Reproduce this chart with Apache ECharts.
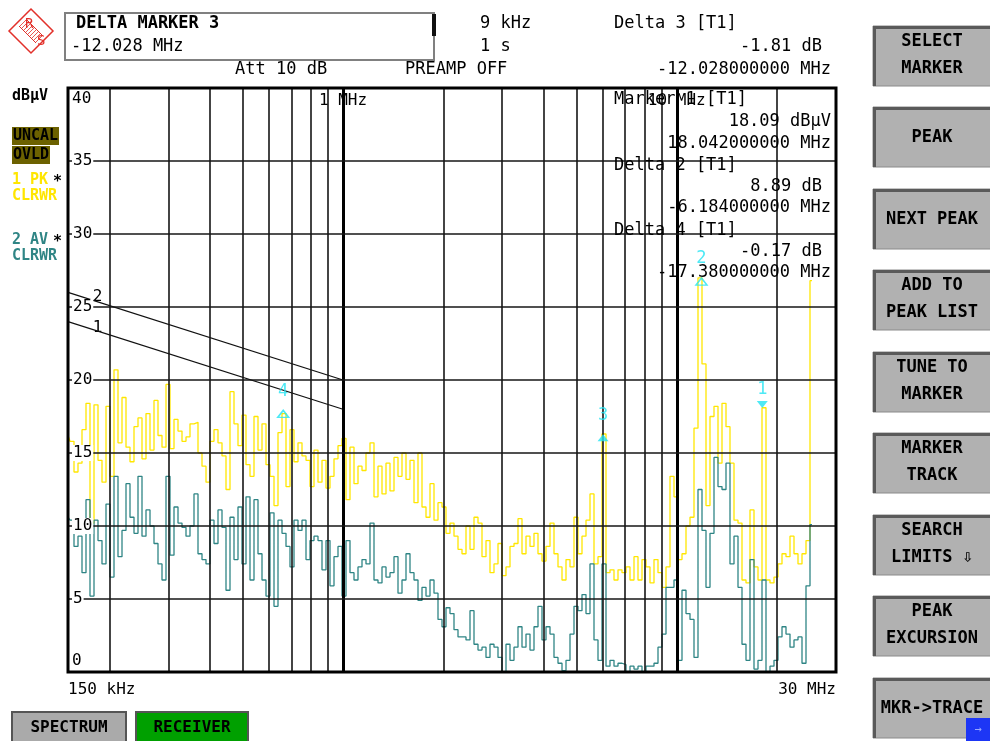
<!DOCTYPE html>
<html>
<head>
<meta charset="utf-8">
<script src="https://cdn.jsdelivr.net/npm/echarts@6.0.0/dist/echarts.min.js"></script>
<style>
  html, body { margin: 0; padding: 0; background: #fff; }
  #chart { width: 990px; height: 741px; }
</style>
</head>
<body>
<div id="chart"></div>
<script>
// peak (PK, trace 1) and average (AV, trace 2) levels in dBuV, one value per sweep step
const pkTrace = [
  16.2, 15.8, 13.7, 14.3, 16.6, 18.4, 10.2, 18.3, 14.5, 13.0,
  18.2, 13.4, 20.7, 15.7, 18.8, 15.4, 14.4, 16.8, 17.4, 14.6,
  17.7, 15.2, 18.6, 16.2, 15.4, 19.7, 15.3, 17.3, 16.5, 15.8,
  16.1, 17.0, 17.1, 15.0, 14.1, 13.0,
  15.8, 16.6, 15.7, 14.8, 12.5, 19.2, 17.0, 15.5, 17.6, 14.2,
  13.4, 17.5, 15.2, 17.0, 14.2, 13.4, 11.4, 16.4, 17.7, 12.7,
  16.6, 14.4, 15.7, 14.8, 14.5, 12.7, 15.2, 13.0, 14.5, 12.6,
  13.4, 14.6, 15.5, 16.0,
  11.8, 15.4, 12.9, 14.1, 13.8, 15.0, 15.7, 12.0, 14.1, 12.2,
  14.3, 12.4, 14.7, 13.4, 15.0, 13.2, 14.5, 11.6, 15.0, 11.3,
  10.6, 12.9, 10.4, 11.6, 11.3, 9.5, 10.2, 9.3, 8.4,
  8.1, 10.0, 8.4, 10.6, 10.2, 7.9, 9.0, 6.8, 7.4, 8.8,
  6.6, 7.2, 8.6, 8.8, 10.5, 8.1, 9.3, 8.6, 9.5, 8.1,
  7.6, 8.6, 10.2, 8.1, 7.2, 6.3, 7.7, 7.2, 10.6, 8.1,
  9.3, 10.4, 12.2, 7.4, 7.9, 16.3, 6.8, 7.0, 6.3, 7.0,
  6.8, 7.2, 6.3, 7.9, 6.3, 7.7, 7.2, 6.1, 7.7, 6.8,
  5.8, 7.2, 13.4, 12.0, 7.7, 8.1, 10.0, 10.6, 16.7, 27.0,
  21.1, 11.4, 17.5, 18.2, 14.3, 18.4, 16.8, 14.3, 10.4, 10.2,
  6.3, 6.1, 11.1, 7.2, 6.3, 18.1, 6.3, 6.1, 6.5, 7.4,
  8.1, 7.9, 9.3, 8.1, 7.4, 8.1, 9.0, 26.8
];
const avTrace = [
  10.6, 10.4, 8.6, 9.3, 6.8, 11.8, 5.2, 10.4, 9.0, 7.4,
  11.5, 6.5, 13.4, 7.9, 9.7, 12.9, 10.6, 9.5, 13.4, 9.3,
  11.1, 10.0, 8.8, 7.4, 6.3, 13.4, 8.0, 11.3, 10.2, 9.9,
  9.3, 10.0, 12.2, 8.1, 7.7, 7.4,
  10.4, 8.8, 11.1, 9.9, 5.6, 10.6, 7.7, 11.3, 7.4, 12.0,
  6.3, 11.8, 8.1, 6.3, 5.2, 10.9, 4.5, 10.4, 9.5, 8.6,
  7.2, 10.4, 9.7, 10.4, 7.7, 9.0, 9.3, 9.0, 7.0, 9.0,
  5.9, 7.9, 8.6, 5.2,
  9.0, 6.8, 6.3, 7.2, 7.7, 7.4, 10.2, 6.3, 6.1, 7.2,
  6.5, 6.8, 7.9, 5.4, 6.3, 8.1, 6.8, 6.3, 4.9, 5.8,
  5.2, 6.3, 5.4, 3.6, 3.1, 4.4, 4.0, 2.9, 2.4,
  2.4, 2.2, 4.2, 1.9, 1.5, 1.7, 1.0, 1.9, 1.7, 1.0,
  0.0, 1.9, 0.8, 1.7, 3.1, 1.7, 2.6, 1.5, 3.1, 4.5,
  2.2, 3.1, 2.6, 1.0, 0.6, 0.1, 0.8, 2.6, 4.5, 4.2,
  5.3, 4.0, 7.4, 2.2, 0.8, 7.4, 0.4, 0.8, 0.4, 0.6,
  0.5, 0.0, 0.4, 0.2, 0.4, 0.0, 0.4, 0.4, 0.6, 1.7,
  2.6, 5.8, 5.8, 6.3, 0.8, 5.6, 4.0, 3.6, 1.0, 12.5,
  9.7, 5.8, 9.5, 14.7, 12.7, 12.5, 14.3, 7.4, 9.3, 5.8,
  1.9, 0.8, 7.7, 0.2, 0.8, 6.3, 0.0, 0.4, 0.8, 2.4,
  3.1, 2.6, 1.7, 2.2, 2.4, 0.6, 5.9, 10.1
];
// sweep steps across the full span (the scan has not reached 30 MHz yet)
const sweepSteps = Array.from({ length: 193 }, (_, i) => i);

// limit lines [MHz, dBuV]
const limit1 = [[0.15, 24.0], [1, 18.0]];
const limit2 = [[0.15, 26.0], [1, 20.0]];

// markers
const markerNames = ['1', '2', '3', '4'];
const markerFreq = [18.042, 11.858, 6.014, 0.662];
const markerLevel = [18.09, 26.98, 16.28, 17.92];

// frequency grid (MHz)
const gridFreqs = [0.2, 0.3, 0.4, 0.5, 0.6, 0.7, 0.8, 0.9, 2, 3, 4, 5, 6, 7, 8, 9, 20];
const decadeFreqs = [1, 10];
const levelTicks = [5, 10, 15, 20, 25, 30, 35];

const MONO = '"DejaVu Sans Mono", "Liberation Mono", monospace';
const CYAN = '#22e4f2';
const YEL = '#ffe600';
const TEAL = '#2f8585';
const RED = '#e2302a';

const near = (a, b) => Math.abs(a - b) < 1e-6 * Math.max(1, b);

function txt(x, y, text, o) {
  o = o || {};
  return {
    type: 'text', x: x, y: y, z: 30,
    style: {
      text: text, fill: o.c || '#000',
      font: (o.b ? 'bold ' : '') + (o.s || 17) + 'px ' + MONO,
      align: o.a || 'left', verticalAlign: 'middle'
    }
  };
}

// soft keys on the right
const keys = [
  ['SELECT', 'MARKER'], ['PEAK'], ['NEXT PEAK'], ['ADD TO', 'PEAK LIST'],
  ['TUNE TO', 'MARKER'], ['MARKER', 'TRACK'], ['SEARCH', 'LIMITS \u21e9'],
  ['PEAK', 'EXCURSION'], ['MKR->TRACE']
];
const keyTop = [26, 107, 189, 270, 352, 433, 515, 596, 678];

const graphics = [];

// R&S logo
graphics.push({
  type: 'polygon', z: 30,
  shape: { points: [[31, 9], [53, 31], [31, 53], [9, 31]] },
  style: { fill: 'none', stroke: RED, lineWidth: 1.5 }
});
graphics.push({ type: 'line', z: 30, shape: { x1: 19, y1: 26, x2: 36, y2: 43 }, style: { stroke: RED, lineWidth: 1 } });
graphics.push({ type: 'line', z: 30, shape: { x1: 26, y1: 19, x2: 43, y2: 36 }, style: { stroke: RED, lineWidth: 1 } });
for (let k = 0; k < 9; k++) {
  const cx = 23 + k * 2, cy = 23 + k * 2;
  graphics.push({ type: 'line', z: 30, shape: { x1: cx - 3.5, y1: cy + 3.5, x2: cx + 3.5, y2: cy - 3.5 }, style: { stroke: RED, lineWidth: 0.8 } });
}
graphics.push(txt(25, 24, 'R', { c: RED, s: 14 }));
graphics.push(txt(37, 41, 'S', { c: RED, s: 14 }));

// header box
graphics.push({ type: 'rect', z: 20, shape: { x: 65, y: 13, width: 369, height: 47 }, style: { fill: '#fff', stroke: '#808080', lineWidth: 2 } });
graphics.push({ type: 'rect', z: 21, shape: { x: 432, y: 14, width: 4, height: 22 }, style: { fill: '#111' } });
graphics.push(txt(76, 24, 'DELTA MARKER 3', { b: true }));
graphics.push(txt(71, 47, '-12.028 MHz'));
graphics.push(txt(480, 24, '9 kHz'));
graphics.push(txt(480, 47, '1 s'));
graphics.push(txt(235, 70, 'Att 10 dB'));
graphics.push(txt(405, 70, 'PREAMP OFF'));
graphics.push(txt(614, 24, 'Delta 3 [T1]'));
graphics.push(txt(822, 47, '-1.81 dB', { a: 'right' }));
graphics.push(txt(831, 70, '-12.028000000 MHz', { a: 'right' }));

// marker readouts inside the diagram
graphics.push(txt(614, 100, 'Marker 1 [T1]'));
graphics.push(txt(831, 122, '18.09 dB\u00b5V', { a: 'right' }));
graphics.push(txt(831, 144, '18.042000000 MHz', { a: 'right' }));
graphics.push(txt(614, 166, 'Delta 2 [T1]'));
graphics.push(txt(822, 187, '8.89 dB', { a: 'right' }));
graphics.push(txt(831, 208, '-6.184000000 MHz', { a: 'right' }));
graphics.push(txt(614, 231, 'Delta 4 [T1]'));
graphics.push(txt(822, 252, '-0.17 dB', { a: 'right' }));
graphics.push(txt(831, 273, '-17.380000000 MHz', { a: 'right' }));

// left status column
graphics.push(txt(12, 96, 'dB\u00b5V', { b: true, s: 15 }));
graphics.push({ type: 'rect', z: 20, shape: { x: 12, y: 127, width: 47, height: 18 }, style: { fill: '#6c6100' } });
graphics.push({ type: 'rect', z: 20, shape: { x: 12, y: 146, width: 38, height: 18 }, style: { fill: '#6c6100' } });
graphics.push(txt(13, 136.5, 'UNCAL', { b: true, s: 15 }));
graphics.push(txt(13, 155.5, 'OVLD', { b: true, s: 15 }));
graphics.push(txt(12, 180, '1 PK', { b: true, s: 15, c: YEL }));
graphics.push(txt(53, 182, '*', { b: true, s: 15 }));
graphics.push(txt(12, 196, 'CLRWR', { b: true, s: 15, c: YEL }));
graphics.push(txt(12, 240, '2 AV', { b: true, s: 15, c: TEAL }));
graphics.push(txt(53, 242, '*', { b: true, s: 15 }));
graphics.push(txt(12, 256, 'CLRWR', { b: true, s: 15, c: TEAL }));

// soft keys
keys.forEach(function (lines, k) {
  const y0 = keyTop[k];
  graphics.push({ type: 'rect', z: 20, shape: { x: 873, y: y0, width: 120, height: 60 }, style: { fill: '#b1b1b1', stroke: '#8a8a8a', lineWidth: 1 } });
  graphics.push({ type: 'polyline', z: 21, shape: { points: [[874.5, y0 + 60], [874.5, y0 + 1.5], [992, y0 + 1.5]] }, style: { stroke: '#5a5a5a', lineWidth: 3, fill: 'none' } });
  const ys = lines.length === 2 ? [y0 + 16, y0 + 43] : [y0 + 31];
  lines.forEach(function (s, j) {
    graphics.push(txt(932, ys[j], s, { b: true, s: 17, a: 'center' }));
  });
});
graphics.push({ type: 'rect', z: 22, shape: { x: 966, y: 718, width: 24, height: 23 }, style: { fill: '#1d36f5' } });
graphics.push(txt(978, 730, '\u2192', { s: 12, c: '#9aa8ff', a: 'center' }));

// bottom mode tabs
graphics.push({ type: 'rect', z: 20, shape: { x: 12, y: 712, width: 114, height: 30 }, style: { fill: '#aaaaaa', stroke: '#555', lineWidth: 2 } });
graphics.push({ type: 'rect', z: 20, shape: { x: 136, y: 712, width: 112, height: 30 }, style: { fill: '#00a000', stroke: '#555', lineWidth: 2 } });
graphics.push(txt(69, 728, 'SPECTRUM', { b: true, s: 16, a: 'center' }));
graphics.push(txt(192, 728, 'RECEIVER', { b: true, s: 16, a: 'center' }));

const chart = echarts.init(document.getElementById('chart'));

const gridLines = gridFreqs.map(f => ({ xAxis: f }))
  .concat(decadeFreqs.map(f => ({ xAxis: f, lineStyle: { width: 3, color: '#000' } })))
  .concat(levelTicks.map(v => ({ yAxis: v })));

const markerData = markerNames.map(function (n, i) {
  const down = i === 0;
  const filled = i === 0 || i === 2;
  return {
    value: [markerFreq[i], markerLevel[i]],
    symbolRotate: down ? 180 : 0,
    symbolOffset: [0, down ? -3.5 : 3.5],
    itemStyle: filled ? { color: CYAN } : { color: 'rgba(0,0,0,0)', borderColor: CYAN, borderWidth: 1.5 },
    label: { formatter: n, distance: down ? 3 : 10 }
  };
});

chart.setOption({
  animation: false,
  backgroundColor: '#fff',
  grid: { left: 68, top: 88, width: 768, height: 584, show: true, z: 8, backgroundColor: 'rgba(0,0,0,0)', borderColor: '#000', borderWidth: 3 },
  xAxis: [
    {
      type: 'log', logBase: 10, min: 0.15, max: 30, z: 7,
      axisLine: { show: false }, axisTick: { show: false }, splitLine: { show: false },
      axisLabel: {
        showMinLabel: true, showMaxLabel: true, alignMinLabel: 'left', alignMaxLabel: 'right',
        margin: 10, color: '#000', fontFamily: MONO, fontSize: 16,
        formatter: v => near(v, 0.15) ? '150 kHz' : (near(v, 30) ? '30 MHz' : '')
      }
    },
    {
      type: 'log', logBase: 10, min: 0.15, max: 30, position: 'top', z: 7,
      axisLine: { show: false }, axisTick: { show: false }, splitLine: { show: false },
      axisLabel: {
        inside: true, margin: 5, color: '#000', fontFamily: MONO, fontSize: 16,
        formatter: v => near(v, 1) ? '1 MHz' : (near(v, 10) ? '10 MHz' : '')
      }
    },
    { type: 'category', data: sweepSteps, boundaryGap: false, show: false }
  ],
  yAxis: {
    type: 'value', min: 0, max: 40, interval: 5, z: 7,
    axisLine: { show: false }, axisTick: { show: false }, splitLine: { show: false },
    axisLabel: {
      inside: true, margin: 4, color: '#000', fontFamily: MONO, fontSize: 16,
      formatter: v => v === 40 ? '{t|40}' : (v === 0 ? '{b|0}' : '{m|' + v + '}'),
      rich: {
        t: { padding: [22, 0, 0, 0], fontFamily: MONO, fontSize: 16, color: '#000' },
        b: { padding: [0, 0, 22, 0], fontFamily: MONO, fontSize: 16, color: '#000' },
        m: { backgroundColor: '#fff', padding: [0, 1, 0, 1], fontFamily: MONO, fontSize: 16, color: '#000' }
      }
    }
  },
  series: [
    {
      name: 'PK', type: 'line', xAxisIndex: 2, data: pkTrace, step: 'middle', symbol: 'none', z: 3,
      lineStyle: { color: YEL, width: 1.3 }
    },
    {
      name: 'AV', type: 'line', xAxisIndex: 2, data: avTrace, step: 'middle', symbol: 'none', z: 4,
      lineStyle: { color: TEAL, width: 1.3 }
    },
    {
      name: 'limit 2', type: 'line', xAxisIndex: 0, data: limit2, symbol: 'none', z: 5,
      lineStyle: { color: '#111', width: 1.2 },
      markPoint: {
        symbol: 'rect', symbolSize: [11, 14], itemStyle: { color: '#fff' },
        label: { show: true, position: 'inside', formatter: '2', color: '#000', fontFamily: MONO, fontSize: 16 },
        data: [{ coord: [0.184, 25.7] }]
      }
    },
    {
      name: 'limit 1', type: 'line', xAxisIndex: 0, data: limit1, symbol: 'none', z: 5,
      lineStyle: { color: '#111', width: 1.2 },
      markPoint: {
        symbol: 'rect', symbolSize: [11, 14], itemStyle: { color: '#fff' },
        label: { show: true, position: 'inside', formatter: '1', color: '#000', fontFamily: MONO, fontSize: 16 },
        data: [{ coord: [0.184, 23.6] }]
      },
      markLine: {
        silent: true, symbol: ['none', 'none'], label: { show: false }, z: 6,
        lineStyle: { color: '#161616', width: 1.6, type: 'solid' },
        data: gridLines
      }
    },
    {
      name: 'markers', type: 'scatter', xAxisIndex: 0, z: 9,
      symbol: 'triangle', symbolSize: [11, 7],
      label: { show: true, position: 'top', color: CYAN, fontFamily: MONO, fontSize: 17 },
      data: markerData
    }
  ],
  graphic: graphics
});
</script>
</body>
</html>
